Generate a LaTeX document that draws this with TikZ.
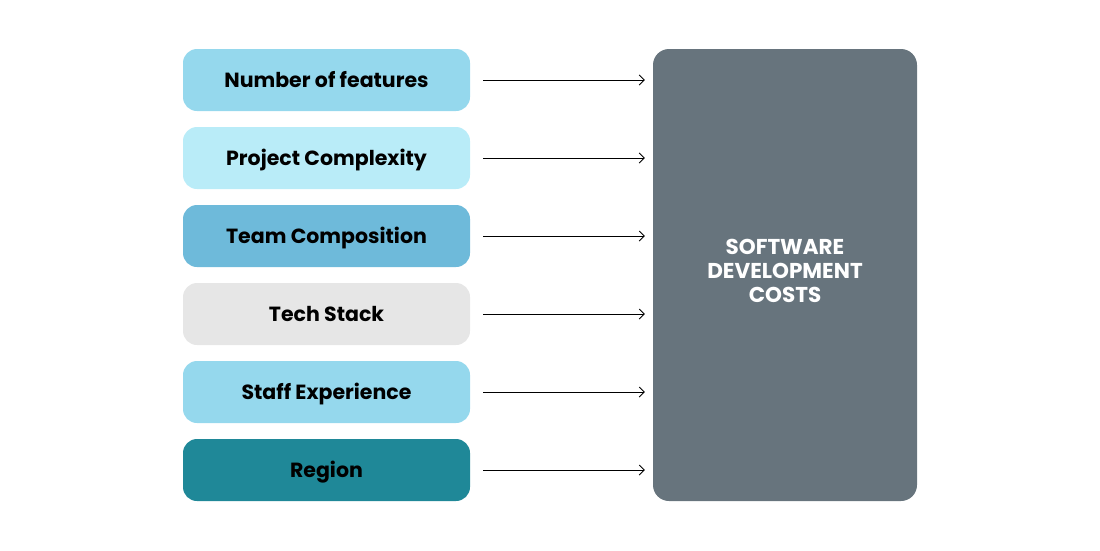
\documentclass[tikz,border=0pt]{standalone}
\usepackage{fontspec}
\setmainfont{Poppins}
\usetikzlibrary{arrows.meta}
\definecolor{cA}{HTML}{95D8ED}
\definecolor{cB}{HTML}{B9ECF8}
\definecolor{cC}{HTML}{6EBADA}
\definecolor{cD}{HTML}{E6E6E6}
\definecolor{cE}{HTML}{1F8898}
\definecolor{cR}{HTML}{67747D}
\begin{document}
\begin{tikzpicture}[x=1pt,y=-1pt,
  factor/.style={rounded corners=14pt, minimum width=287pt, minimum height=62pt, inner sep=0pt,
    text height=15pt, text depth=0pt,
    font=\fontsize{20.5}{24}\selectfont\bfseries, text=black},
  costbox/.style={fill=cR, rounded corners=16pt, minimum width=264pt, minimum height=452pt, inner sep=0pt},
  costtext/.style={align=center, text=white, font=\fontsize{21.5}{24}\selectfont\bfseries, inner sep=0pt},
  link/.style={draw=black, line width=0.8pt, -{Straight Barb[length=5pt,width=10pt]}}]
\useasboundingbox (0,0) rectangle (1100,550);
\node[factor, fill=cA] (f1) at (326.5,80) {Number of features};
\node[factor, fill=cB] (f2) at (326.5,158) {Project Complexity};
\node[factor, fill=cC] (f3) at (326.5,236) {Team Composition};
\node[factor, fill=cD] (f4) at (326.5,314) {Tech Stack};
\node[factor, fill=cA] (f5) at (326.5,392) {Staff Experience};
\node[factor, fill=cE] (f6) at (326.5,470) {Region};
\node[costbox] (c) at (785,275) {};
\node[costtext] (ct) at (785,271) {SOFTWARE\\DEVELOPMENT\\COSTS};
\foreach \i in {1,...,6}{
  \coordinate (s\i) at ([xshift=13pt]f\i.east);
  \coordinate (t\i) at ([xshift=-8pt]f\i.east -| c.west);
  \draw[link] (s\i) -- (t\i);
}
\end{tikzpicture}
\end{document}
